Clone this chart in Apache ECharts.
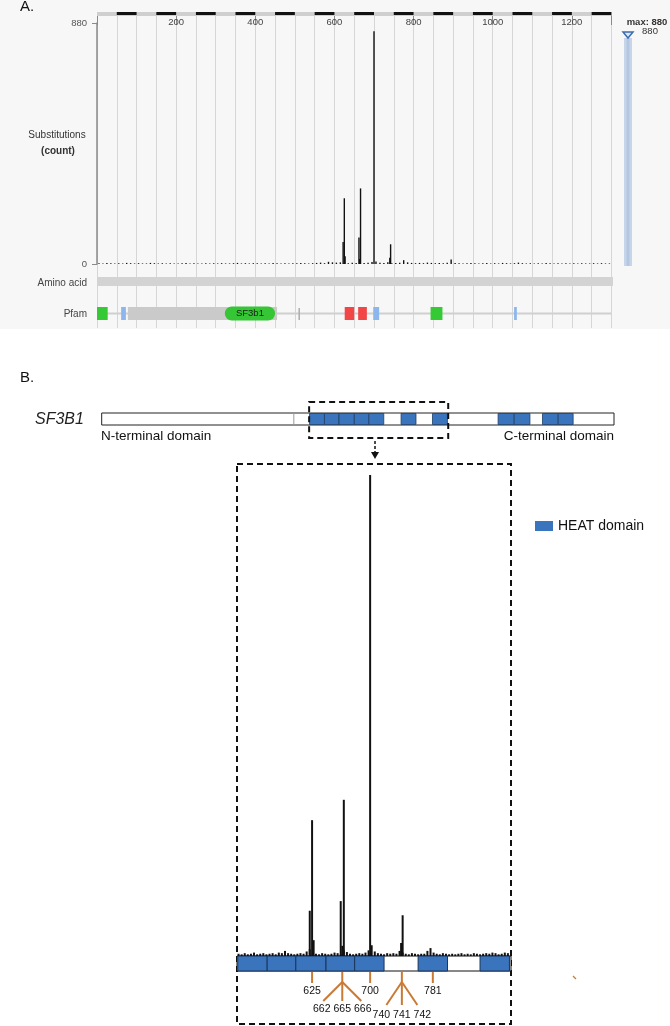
<!DOCTYPE html>
<html>
<head>
<meta charset="utf-8">
<script src="https://cdn.jsdelivr.net/npm/echarts@6/dist/echarts.min.js"></script>
<style>
html, body { margin: 0; padding: 0; background: #fff; }
#main { width: 670px; height: 1026px; }
</style>
</head>
<body>
<div id="main"></div>
<script>
// ---- data ----
var proteinLen = 1304;

// ruler on top of panel A (black blocks)
var rulerStart = [50, 150, 250, 350, 450, 550, 650, 750, 850, 950, 1050, 1150, 1250];
var rulerEnd = [100, 200, 300, 400, 500, 600, 700, 800, 900, 1000, 1100, 1200, 1300];

// recurrent substitutions
var hotPos = [622, 625, 627, 662, 664, 666, 700, 740, 742];
var hotCount = [80, 240, 28, 97, 18, 276, 850, 23, 72];

// background counts, panel A (every 10 aa starting at 5)
var bgAStart = 5, bgAStep = 10;
var bgACount = [
    3, 2, 4, 3, 2, 3, 2, 4, 3, 2,
    3, 2, 2, 4, 3, 2, 3, 2, 3, 2,
    2, 3, 4, 2, 3, 2, 2, 3, 2, 3,
    2, 3, 2, 2, 3, 4, 2, 3, 2, 3,
    3, 2, 3, 2, 4, 3, 2, 3, 2, 3,
    3, 4, 3, 2, 3, 4, 5, 3, 8, 6,
    5, 6, 4, 3, 5, 4, 6, 4, 5, 7,
    9, 5, 4, 6, 3, 4, 5, 14, 6, 4,
    3, 4, 3, 5, 4, 3, 4, 3, 5, 16,
    4, 3, 2, 3, 4, 3, 2, 3, 4, 2,
    3, 2, 4, 3, 2, 3, 5, 3, 2, 3,
    2, 3, 2, 4, 3, 2, 3, 2, 3, 2,
    3, 2, 3, 2, 2, 3, 2, 3, 2, 2
];

// background counts, panel B (every 4 aa starting at 530)
var bgBStart = 530, bgBStep = 4;
var bgBCount = [
    4, 3, 5, 3, 4, 6, 3, 4, 5, 3,
    4, 5, 3, 6, 5, 9, 5, 4, 3, 4,
    5, 4, 8, 12, 5, 4, 3, 5, 4, 3,
    4, 6, 5, 3, 10, 7, 4, 3, 4, 5,
    4, 6, 10, 19, 8, 5, 4, 3, 5, 4,
    5, 4, 9, 6, 4, 3, 5, 4, 3, 4,
    4, 9, 14, 6, 4, 3, 5, 4, 3, 4,
    3, 4, 5, 3, 4, 3, 5, 4, 3, 4,
    5, 4, 6, 5, 3, 4, 6, 5
];

// Pfam track
var pfamStart = [78, 0, 61, 323, 511, 626, 660, 698, 843, 1054];
var pfamEnd = [455, 27, 73, 450, 512, 650, 682, 713, 873, 1061];
var pfamKind = ['grey', 'green', 'blue', 'sf3b1', 'tick', 'red', 'red', 'blue', 'green', 'blue'];

// HEAT repeats
var heatStart = [529, 567, 604, 643, 680, 762, 842, 1009, 1050, 1122, 1162];
var heatEnd = [567, 604, 643, 680, 718, 800, 880, 1050, 1090, 1162, 1200];
var ntdEnd = 489;

// zoomed window in panel B
var zoomMin = 528, zoomMax = 882;

// hotspot annotations
var markSingle = [625, 700, 781];
var fanStem = [664, 741];
var fanLabels = [['662', '665', '666'], ['740', '741', '742']];

// ---- helpers ----
var heatBlue = '#3a74bd';
var orange = '#c97a35';
var arial = 'Liberation Sans';

function points(start, step, counts, lo, hi) {
    var pts = [];
    for (var i = 0; i < counts.length; i++) {
        pts.push([start + i * step, counts[i]]);
    }
    for (var j = 0; j < hotPos.length; j++) {
        pts.push([hotPos[j], hotCount[j]]);
    }
    return pts.filter(function (p) { return p[0] >= lo && p[0] <= hi; })
        .sort(function (a, b) { return a[0] - b[0]; });
}

function ranges(s, e, lo, hi) {
    var out = [];
    for (var i = 0; i < s.length; i++) {
        if (e[i] > lo && s[i] < hi) out.push([Math.max(s[i], lo), Math.min(e[i], hi)]);
    }
    return out;
}

function band(fill, stroke, lw, padTop, padBottom, dash) {
    return function (params, api) {
        var cs = params.coordSys;
        var x0 = api.coord([api.value(0), 0])[0];
        var x1 = api.coord([api.value(1), 0])[0];
        return {
            type: 'rect',
            shape: { x: x0, y: cs.y + padTop, width: x1 - x0, height: cs.height - padTop - padBottom },
            style: { fill: fill, stroke: stroke, lineWidth: lw, lineDash: dash || null }
        };
    };
}

var pfamColor = { grey: '#cacaca', green: '#36c936', blue: '#8db6ec', red: '#f24545', sf3b1: '#35c535', tick: '#adadad' };

function renderPfam(params, api) {
    var cs = params.coordSys;
    var kind = pfamKind[params.dataIndex];
    var x0 = api.coord([api.value(0), 0])[0];
    var x1 = api.coord([api.value(1), 0])[0];
    if (kind === 'tick') {
        return { type: 'line', shape: { x1: x0, y1: cs.y + 1, x2: x0, y2: cs.y + cs.height }, style: { stroke: pfamColor.tick, lineWidth: 1.5 } };
    }
    if (kind === 'sf3b1') {
        return {
            type: 'group', children: [
                { type: 'rect', shape: { x: x0, y: cs.y - 0.5, width: x1 - x0, height: cs.height + 1, r: 7 }, style: { fill: pfamColor.sf3b1 } },
                { type: 'text', x: (x0 + x1) / 2, y: cs.y + cs.height / 2, style: { text: 'SF3b1', fill: '#1a1a1a', font: '9.5px ' + arial, align: 'center', verticalAlign: 'middle' } }
            ]
        };
    }
    return { type: 'rect', shape: { x: x0, y: cs.y, width: x1 - x0, height: cs.height }, style: { fill: pfamColor[kind] } };
}

function renderSingle(params, api) {
    var cs = params.coordSys;
    var x = api.coord([api.value(0), 0])[0];
    var base = cs.y + cs.height;
    return {
        type: 'group', children: [
            { type: 'line', shape: { x1: x, y1: base + 1, x2: x, y2: base + 12 }, style: { stroke: orange, lineWidth: 2 } },
            { type: 'text', x: x, y: base + 20, style: { text: String(api.value(0)), fill: '#111', font: '10.5px ' + arial, align: 'center', verticalAlign: 'middle' } }
        ]
    };
}

function renderFan(params, api) {
    var cs = params.coordSys;
    var i = params.dataIndex;
    var x = api.coord([api.value(0), 0])[0];
    var base = cs.y + cs.height;
    var spread = [19, 15.5][i];
    var drop = [30, 34][i];
    var labelY = [38, 44][i];
    var kids = [{ type: 'line', shape: { x1: x, y1: base + 1, x2: x, y2: base + 11 }, style: { stroke: orange, lineWidth: 2 } }];
    for (var k = -1; k <= 1; k++) {
        kids.push({ type: 'line', shape: { x1: x, y1: base + 11, x2: x + k * spread, y2: base + drop }, style: { stroke: orange, lineWidth: 2 } });
        kids.push({ type: 'text', x: x + k * 20.5, y: base + labelY, style: { text: fanLabels[i][k + 1], fill: '#111', font: '10.5px ' + arial, align: 'center', verticalAlign: 'middle' } });
    }
    return { type: 'group', children: kids };
}

function hiddenX(grid, min, max) { return { type: 'value', gridIndex: grid, min: min, max: max, show: false }; }
function hiddenY(grid, min, max) { return { type: 'value', gridIndex: grid, min: min, max: max, show: false }; }

var ptsA = points(bgAStart, bgAStep, bgACount, 0, proteinLen);
var ptsB = points(bgBStart, bgBStep, bgBCount, zoomMin, zoomMax);

var chart = echarts.init(document.getElementById('main'));

option = {
    animation: false,
    grid: [
        { left: 97, top: 15, width: 514.4, height: 313 },   // vertical lines
        { left: 97, top: 23, width: 516, height: 241 },     // substitutions
        { left: 97, top: 277, width: 516, height: 9 },      // amino acid
        { left: 97, top: 307, width: 516, height: 13 },     // pfam
        { left: 97, top: 12, width: 516, height: 4 },       // ruler
        { left: 101.7, top: 413, width: 512.3, height: 12 },// overview
        { left: 237, top: 458, width: 274, height: 498 },   // zoom plot
        { left: 237, top: 956, width: 274, height: 15 }     // zoom bar
    ],
    xAxis: [
        {
            type: 'value', gridIndex: 0, min: 0, max: 1300, interval: 50,
            axisLine: { show: false }, axisTick: { show: false }, axisLabel: { show: false },
            splitLine: { show: true, lineStyle: { color: '#d6d6d6', width: 1 } }
        },
        {
            type: 'value', gridIndex: 0, position: 'top', min: 0, max: 1300, interval: 200,
            axisLine: { show: false },
            axisTick: { show: true, inside: true, length: 10, lineStyle: { color: '#8a8a8a' } },
            axisLabel: {
                inside: true, margin: 2, fontSize: 9.5, color: '#444', fontFamily: arial,
                formatter: function (v) { return (v > 0 && v % 200 === 0) ? v : ''; }
            },
            splitLine: { show: false }
        },
        hiddenX(1, 0, proteinLen),
        hiddenX(2, 0, proteinLen),
        hiddenX(3, 0, proteinLen),
        hiddenX(4, 0, proteinLen),
        hiddenX(5, 0, proteinLen),
        hiddenX(6, zoomMin, zoomMax),
        hiddenX(7, zoomMin, zoomMax)
    ],
    yAxis: [
        hiddenY(0, 0, 1),
        {
            type: 'value', gridIndex: 1, min: 0, max: 880, interval: 880, offset: 6,
            axisLine: { show: true, lineStyle: { color: '#8a8a8a', width: 1.5 } },
            axisTick: { show: true, length: 5, lineStyle: { color: '#8a8a8a' } },
            axisLabel: { fontSize: 9.5, color: '#555', fontFamily: arial, margin: 4 },
            splitLine: { show: false }
        },
        hiddenY(2, 0, 1),
        hiddenY(3, 0, 1),
        hiddenY(4, 0, 1),
        hiddenY(5, 0, 1),
        hiddenY(6, 0, 880),
        hiddenY(7, 0, 1)
    ],
    legend: {
        data: ['HEAT domain'], left: 530, top: 514, icon: 'rect', itemWidth: 18, itemHeight: 10,
        selectedMode: false,
        textStyle: { fontSize: 14, fontFamily: arial, color: '#111' }
    },
    series: [
        {
            type: 'bar', xAxisIndex: 2, yAxisIndex: 1, data: ptsA, barWidth: 1.4,
            itemStyle: { color: '#111' }, silent: true
        },
        { type: 'custom', xAxisIndex: 3, yAxisIndex: 2, data: [[0, proteinLen]], renderItem: band('#d3d3d3', null, 0, 0, 0), silent: true },
        { type: 'custom', xAxisIndex: 4, yAxisIndex: 3, data: [[0, 1300]], renderItem: band('#d0d0d0', null, 0, 5.5, 5.5), silent: true },
        {
            type: 'custom', xAxisIndex: 4, yAxisIndex: 3, silent: true, renderItem: renderPfam,
            data: pfamStart.map(function (s, i) { return [s, pfamEnd[i]]; })
        },
        { type: 'custom', xAxisIndex: 5, yAxisIndex: 4, data: [[0, 1300]], renderItem: band('#cfcfcf', null, 0, 0, 0), silent: true },
        {
            type: 'custom', xAxisIndex: 5, yAxisIndex: 4, silent: true, renderItem: band('#111', null, 0, 0, 1),
            data: rulerStart.map(function (s, i) { return [s, rulerEnd[i]]; })
        },
        // panel B overview
        { type: 'custom', xAxisIndex: 6, yAxisIndex: 5, data: [[0, proteinLen]], renderItem: band('#fff', '#222', 1, 0, 0), silent: true },
        {
            type: 'custom', name: 'HEAT domain', xAxisIndex: 6, yAxisIndex: 5, silent: true,
            itemStyle: { color: heatBlue },
            renderItem: band(heatBlue, '#1f3f66', 0.8, 0.5, 0.5),
            data: ranges(heatStart, heatEnd, 0, proteinLen)
        },
        {
            type: 'custom', xAxisIndex: 6, yAxisIndex: 5, silent: true, data: [[ntdEnd]],
            renderItem: function (params, api) {
                var cs = params.coordSys;
                var x = api.coord([api.value(0), 0])[0];
                return { type: 'line', shape: { x1: x, y1: cs.y, x2: x, y2: cs.y + cs.height }, style: { stroke: '#999', lineWidth: 1 } };
            }
        },
        { type: 'custom', xAxisIndex: 6, yAxisIndex: 5, data: [[zoomMin, zoomMax]], renderItem: band(null, '#111', 2, -11, -13, [6, 4]), silent: true },
        // panel B zoom
        {
            type: 'bar', xAxisIndex: 7, yAxisIndex: 6, data: ptsB, barWidth: 2,
            itemStyle: { color: '#111' }, silent: true
        },
        { type: 'custom', xAxisIndex: 8, yAxisIndex: 7, data: [[zoomMin, zoomMax]], renderItem: band('#fff', '#111', 1, 0, 0), silent: true },
        {
            type: 'custom', name: 'HEAT domain', xAxisIndex: 8, yAxisIndex: 7, silent: true,
            itemStyle: { color: heatBlue },
            renderItem: band(heatBlue, '#1b3557', 1, 0, 0),
            data: ranges(heatStart, heatEnd, zoomMin, zoomMax)
        },
        {
            type: 'custom', xAxisIndex: 8, yAxisIndex: 7, silent: true, renderItem: renderSingle,
            data: markSingle.map(function (p) { return [p]; })
        },
        {
            type: 'custom', xAxisIndex: 8, yAxisIndex: 7, silent: true, renderItem: renderFan,
            data: fanStem.map(function (p) { return [p]; })
        }
    ],
    graphic: [
        { type: 'rect', z: -100, shape: { x: 0, y: 0, width: 670, height: 329 }, style: { fill: '#f7f7f7' } },
        { type: 'text', x: 20, y: 7, style: { text: 'A.', font: '15px ' + arial, fill: '#111', verticalAlign: 'middle' } },
        { type: 'text', x: 57, y: 135, style: { text: 'Substitutions', font: '10px ' + arial, fill: '#333', align: 'center', verticalAlign: 'middle' } },
        { type: 'text', x: 58, y: 151, style: { text: '(count)', font: 'bold 10px ' + arial, fill: '#333', align: 'center', verticalAlign: 'middle' } },
        { type: 'text', x: 87, y: 283, style: { text: 'Amino acid', font: '10px ' + arial, fill: '#444', align: 'right', verticalAlign: 'middle' } },
        { type: 'text', x: 87, y: 314, style: { text: 'Pfam', font: '10px ' + arial, fill: '#444', align: 'right', verticalAlign: 'middle' } },
        // max slider
        { type: 'text', x: 647, y: 22, style: { text: 'max: 880', font: 'bold 9.5px ' + arial, fill: '#333', align: 'center', verticalAlign: 'middle' } },
        { type: 'text', x: 650, y: 31, style: { text: '880', font: '9.5px ' + arial, fill: '#333', align: 'center', verticalAlign: 'middle' } },
        { type: 'rect', shape: { x: 624, y: 38, width: 8, height: 228 }, style: { fill: '#c6d5ea' } },
        { type: 'rect', shape: { x: 626.5, y: 38, width: 3, height: 228 }, style: { fill: '#b4c7e0' } },
        { type: 'polygon', shape: { points: [[623, 32], [633, 32], [628, 38]] }, style: { fill: '#dbe6f4', stroke: '#3c6db0', lineWidth: 1.5 } },
        // panel B
        { type: 'text', x: 20, y: 378, style: { text: 'B.', font: '15px ' + arial, fill: '#111', verticalAlign: 'middle' } },
        { type: 'text', x: 35, y: 420, style: { text: 'SF3B1', font: 'italic 16px ' + arial, fill: '#222', verticalAlign: 'middle' } },
        { type: 'text', x: 101, y: 436, style: { text: 'N-terminal domain', font: '13.5px ' + arial, fill: '#111', verticalAlign: 'middle' } },
        { type: 'text', x: 614, y: 436, style: { text: 'C-terminal domain', font: '13.5px ' + arial, fill: '#111', align: 'right', verticalAlign: 'middle' } },
        { type: 'line', shape: { x1: 375, y1: 441, x2: 375, y2: 453 }, style: { stroke: '#111', lineWidth: 1.5, lineDash: [3, 2] } },
        { type: 'polygon', shape: { points: [[371, 452], [379, 452], [375, 459]] }, style: { fill: '#111' } },
        { type: 'rect', shape: { x: 237, y: 464, width: 274, height: 560 }, style: { fill: null, stroke: '#111', lineWidth: 2, lineDash: [6, 4] } },
        { type: 'line', shape: { x1: 573, y1: 976, x2: 576, y2: 979 }, style: { stroke: orange, lineWidth: 1.2 } }
    ]
};

chart.setOption(option);
window.addEventListener('resize', function () { chart.resize(); });
</script>
</body>
</html>
